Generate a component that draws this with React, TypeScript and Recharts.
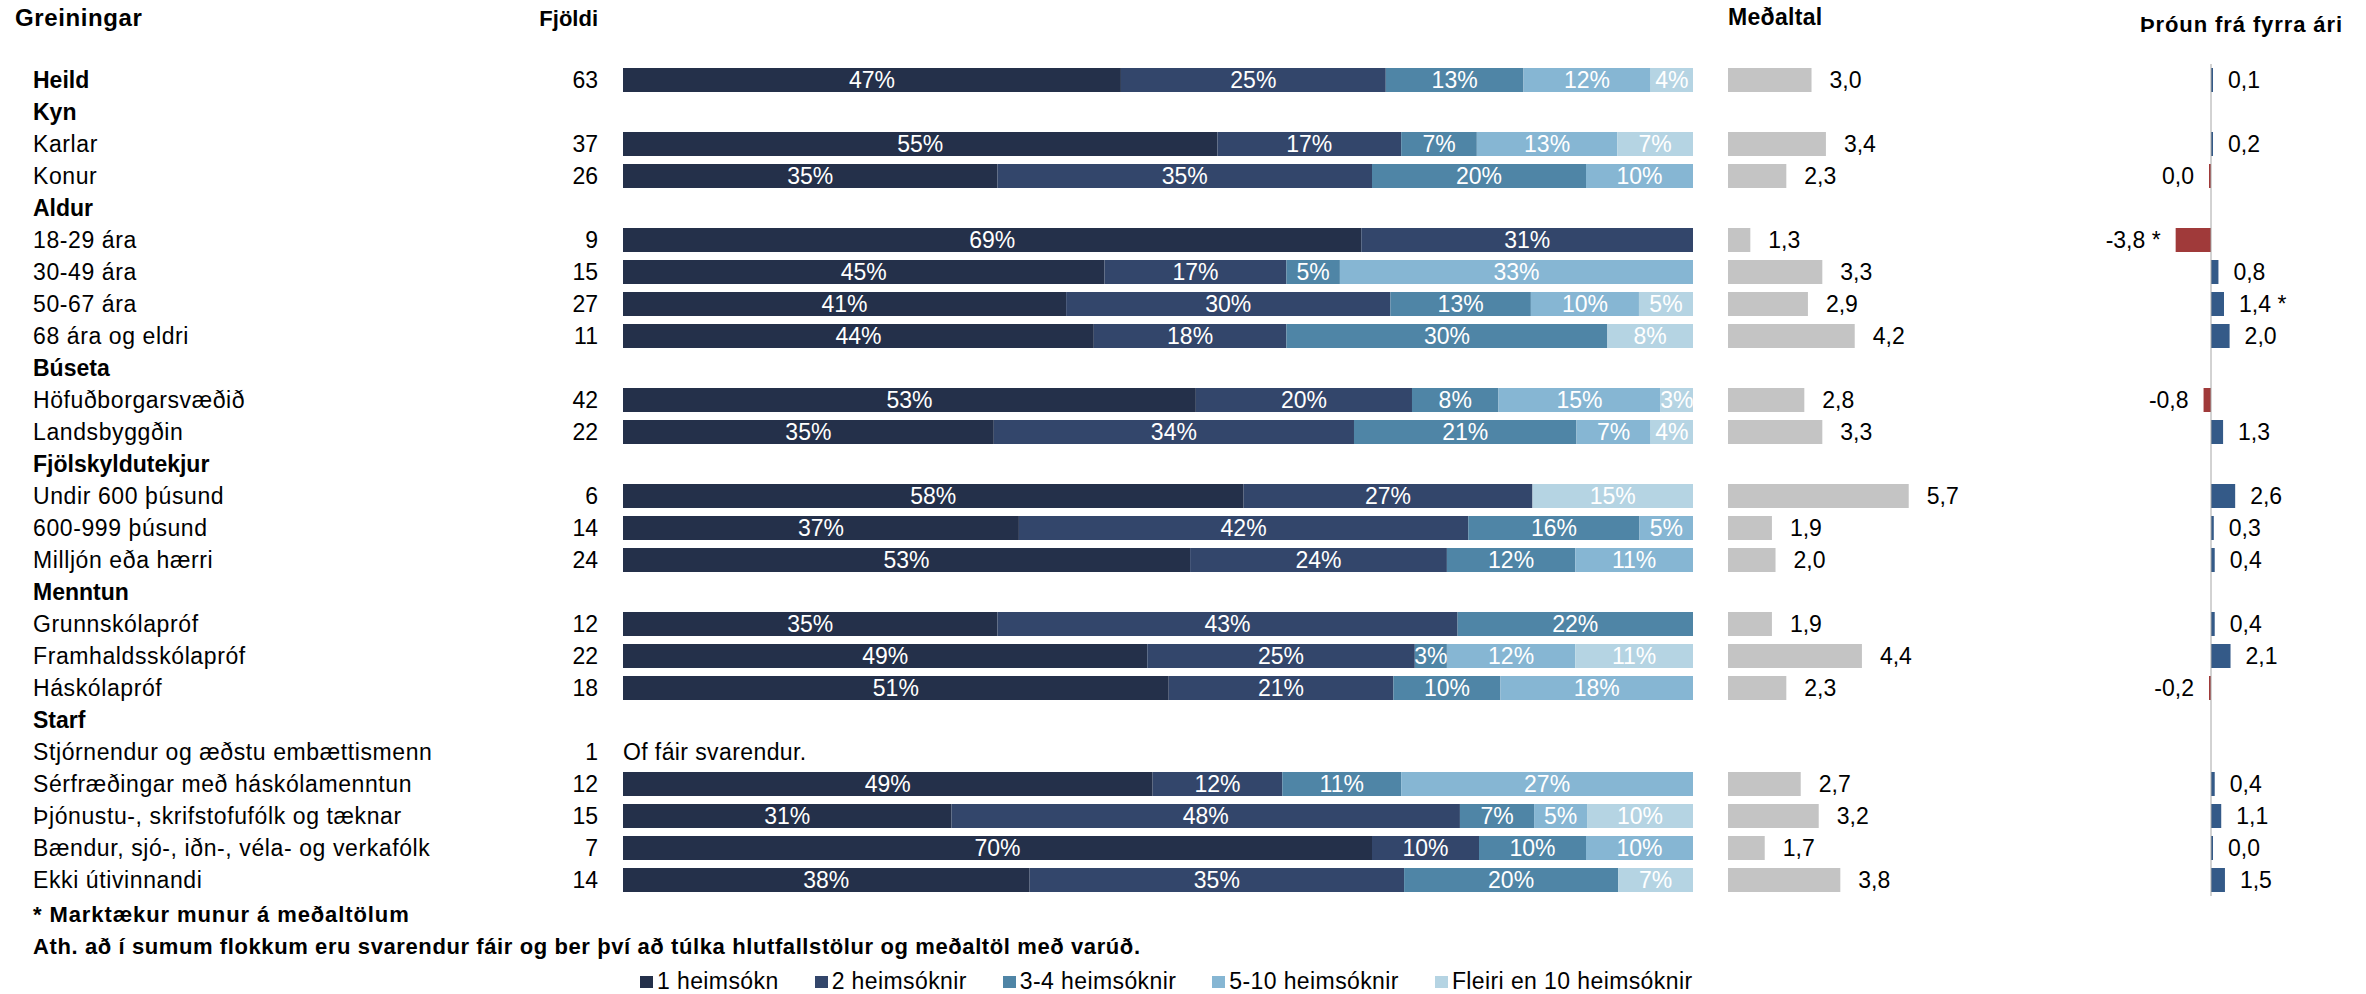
import { Bar, BarChart, Cell, LabelList, ReferenceLine, XAxis, YAxis } from 'recharts';

const rows = [
  'Heild', 'Kyn', 'Karlar', 'Konur', 'Aldur', '18-29 ára', '30-49 ára', '50-67 ára', '68 ára og eldri',
  'Búseta', 'Höfuðborgarsvæðið', 'Landsbyggðin', 'Fjölskyldutekjur', 'Undir 600 þúsund', '600-999 þúsund',
  'Milljón eða hærri', 'Menntun', 'Grunnskólapróf', 'Framhaldsskólapróf', 'Háskólapróf', 'Starf',
  'Stjórnendur og æðstu embættismenn', 'Sérfræðingar með háskólamenntun', 'Þjónustu-, skrifstofufólk og tæknar',
  'Bændur, sjó-, iðn-, véla- og verkafólk', 'Ekki útivinnandi',
];
const boldRows = ['Heild', 'Kyn', 'Aldur', 'Búseta', 'Fjölskyldutekjur', 'Menntun', 'Starf'];
const counts = [63, null, 37, 26, null, 9, 15, 27, 11, null, 42, 22, null, 6, 14, 24, null, 12, 22, 18, null, 1, 12, 15, 7, 14];
const notes: (string | null)[] = rows.map((r) => (r === 'Stjórnendur og æðstu embættismenn' ? 'Of fáir svarendur.' : null));

const series = ['1 heimsókn', '2 heimsóknir', '3-4 heimsóknir', '5-10 heimsóknir', 'Fleiri en 10 heimsóknir'];
const colors = ['#24304a', '#33466b', '#4f85a6', '#86b6d3', '#b5d4e3'];
const oneVisit = [47, null, 55, 35, null, 69, 45, 41, 44, null, 53, 35, null, 58, 37, 53, null, 35, 49, 51, null, null, 49, 31, 70, 38];
const twoVisits = [25, null, 17, 35, null, 31, 17, 30, 18, null, 20, 34, null, 27, 42, 24, null, 43, 25, 21, null, null, 12, 48, 10, 35];
const threeFour = [13, null, 7, 20, null, 0, 5, 13, 30, null, 8, 21, null, 0, 16, 12, null, 22, 3, 10, null, null, 11, 7, 10, 20];
const fiveTen = [12, null, 13, 10, null, 0, 33, 10, 0, null, 15, 7, null, 0, 5, 11, null, 0, 12, 18, null, null, 27, 5, 10, 0];
const moreTen = [4, null, 7, 0, null, 0, 0, 5, 8, null, 3, 4, null, 15, 0, 0, null, 0, 11, 0, null, null, 0, 10, 0, 7];

const means = [3.0, null, 3.4, 2.3, null, 1.3, 3.3, 2.9, 4.2, null, 2.8, 3.3, null, 5.7, 1.9, 2.0, null, 1.9, 4.4, 2.3, null, null, 2.7, 3.2, 1.7, 3.8];
const changes = [0.1, null, 0.2, -0.04, null, -3.8, 0.8, 1.4, 2.0, null, -0.8, 1.3, null, 2.6, 0.3, 0.4, null, 0.4, 2.1, -0.2, null, null, 0.4, 1.1, 0.02, 1.5];
const significant = rows.map((r) => r === '18-29 ára' || r === '50-67 ára');

const fmt = (v: number) => (Math.abs(v) < 0.05 ? '0,0' : v.toFixed(1).replace('.', ','));

const data = rows.map((name, i) => ({
  name,
  s1: oneVisit[i],
  s2: twoVisits[i],
  s3: threeFour[i],
  s4: fiveTen[i],
  s5: moreTen[i],
  mean: means[i],
  change: changes[i],
  changeLabel: changes[i] == null ? '' : fmt(changes[i] as number) + (significant[i] ? ' *' : ''),
}));
const keys = ['s1', 's2', 's3', 's4', 's5'];

const FONT = "'Liberation Sans', Arial, sans-serif";
const H = 994;
const MARGIN = { top: 64, right: 0, bottom: 98, left: 0 };

function RowTick(props: any) {
  const { y, payload } = props;
  const i = payload.index;
  const name = rows[i];
  const bold = boldRows.includes(name);
  return (
    <g>
      <text x={33} y={y} dy={8} fontSize={23} fontWeight={bold ? 700 : 400} letterSpacing={bold ? 0 : 0.6} fill="#000">
        {name}
      </text>
      {counts[i] != null && (
        <text x={598} y={y} dy={8} fontSize={23} textAnchor="end" fill="#000">
          {counts[i]}
        </text>
      )}
      {notes[i] && (
        <text x={623} y={y} dy={8} fontSize={23} letterSpacing={0.4} fill="#000">
          {notes[i]}
        </text>
      )}
    </g>
  );
}

export default function App() {
  return (
    <div style={{ position: 'absolute', left: 0, top: 0, width: 2366, height: H, background: '#fff', fontFamily: FONT }}>
      <div style={{ position: 'absolute', left: 0, top: 0 }}>
        <BarChart width={1700} height={H} data={data} layout="vertical" stackOffset="expand" margin={{ ...MARGIN, right: 7 }}>
          <XAxis type="number" hide domain={[0, 1]} />
          <YAxis type="category" dataKey="name" width={623} axisLine={false} tickLine={false} interval={0} tick={<RowTick />} />
          {keys.map((k, j) => (
            <Bar key={k} dataKey={k} stackId="a" name={series[j]} fill={colors[j]} barSize={24} isAnimationActive={false}>
              <LabelList
                dataKey={k}
                position="center"
                fill="#fff"
                fontSize={23}
                formatter={(v: any) => (v ? `${v}%` : '')}
              />
            </Bar>
          ))}
        </BarChart>
      </div>

      <div style={{ position: 'absolute', left: 1728, top: 0 }}>
        <BarChart width={260} height={H} data={data} layout="vertical" margin={MARGIN}>
          <XAxis type="number" hide domain={[0.68, 0.68 + 260 / 36]} allowDataOverflow />
          <YAxis type="category" dataKey="name" hide />
          <Bar dataKey="mean" fill="#c4c4c4" barSize={24} isAnimationActive={false}>
            <LabelList
              dataKey="mean"
              position="right"
              offset={18}
              fill="#000"
              fontSize={23}
              formatter={(v: any) => (v == null ? '' : fmt(v))}
            />
          </Bar>
        </BarChart>
      </div>

      <div style={{ position: 'absolute', left: 2100, top: 0 }}>
        <BarChart width={266} height={H} data={data} layout="vertical" margin={MARGIN}>
          <XAxis type="number" hide domain={[-111 / 9.3, 155 / 9.3]} allowDataOverflow />
          <YAxis type="category" dataKey="name" hide />
          <ReferenceLine x={0} stroke="#a6a6a6" strokeWidth={1} />
          <Bar dataKey="change" barSize={24} minPointSize={2} isAnimationActive={false}>
            {data.map((d, i) => (
              <Cell key={i} fill={(d.change ?? 0) < 0 ? '#a03a3a' : '#345a88'} />
            ))}
            <LabelList dataKey="changeLabel" position="right" offset={15} fill="#000" fontSize={23} />
          </Bar>
        </BarChart>
      </div>

      <svg width={2366} height={H} style={{ position: 'absolute', left: 0, top: 0, pointerEvents: 'none' }}>
        <text x={15} y={26} fontSize={24} fontWeight={700} letterSpacing={0.6}>Greiningar</text>
        <text x={598} y={26} fontSize={22} fontWeight={700} textAnchor="end">Fjöldi</text>
        <text x={1728} y={25} fontSize={23} fontWeight={700} letterSpacing={0.3}>Meðaltal</text>
        <text x={2140} y={32} fontSize={22} fontWeight={700} letterSpacing={0.9}>Þróun frá fyrra ári</text>
        <text x={33} y={922} fontSize={22} fontWeight={700} letterSpacing={0.9}>* Marktækur munur á meðaltölum</text>
        <text x={33} y={954} fontSize={22} fontWeight={700} letterSpacing={0.6}>
          Ath. að í sumum flokkum eru svarendur fáir og ber því að túlka hlutfallstölur og meðaltöl með varúð.
        </text>
      </svg>

      <div style={{ position: 'absolute', left: 640, top: 970, display: 'flex', alignItems: 'center', fontSize: 23, lineHeight: '23px', letterSpacing: 0.4 }}>
        {series.map((s, j) => (
          <div key={s} style={{ display: 'flex', alignItems: 'center', marginRight: 36 }}>
            <span style={{ display: 'inline-block', width: 13, height: 12, background: colors[j], marginRight: 4 }} />
            <span>{s}</span>
          </div>
        ))}
      </div>
    </div>
  );
}
